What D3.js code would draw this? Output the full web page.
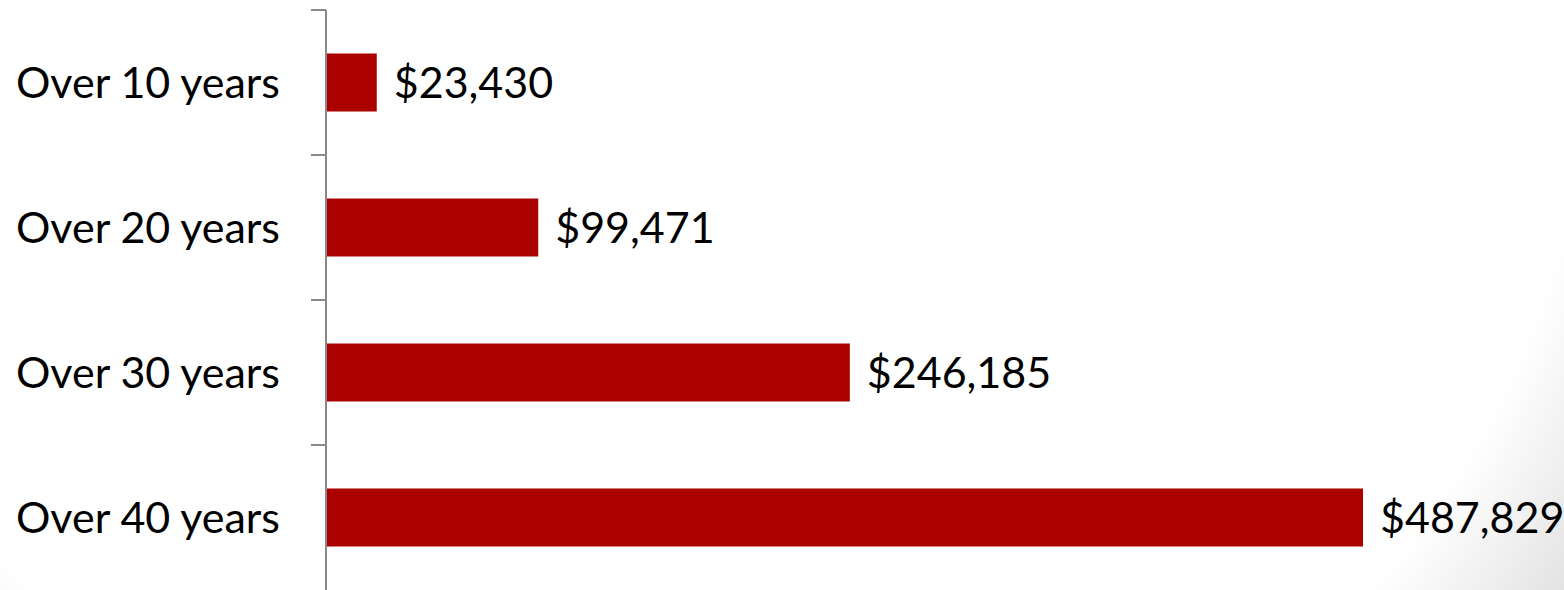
<!DOCTYPE html>
<html>
<head>
<meta charset="utf-8">
<script src="https://cdn.jsdelivr.net/npm/d3@7"></script>
<style>
  html, body { margin: 0; padding: 0; background: #fff; }
  svg { display: block; }
</style>
</head>
<body>
<div id="chart"></div>
<script>
const categories = ['Over 10 years', 'Over 20 years', 'Over 30 years', 'Over 40 years'];
const values = [23430, 99471, 246185, 487829];

const width = 1564;
const height = 590;

const svg = d3
  .select('#chart')
  .append('svg')
  .attr('width', width)
  .attr('height', height);

// soft vignette, mostly in the bottom corners
const grad = svg
  .append('defs')
  .append('radialGradient')
  .attr('id', 'bg')
  .attr('gradientUnits', 'userSpaceOnUse')
  .attr('cx', 700)
  .attr('cy', 0)
  .attr('r', 1050);
grad.append('stop').attr('offset', '0.85').attr('stop-color', '#ffffff');
grad.append('stop').attr('offset', '1').attr('stop-color', '#e2e2e2');

svg.append('rect').attr('width', width).attr('height', height).attr('fill', 'url(#bg)');

const y = d3
  .scaleBand()
  .domain(categories)
  .range([10, 590])
  .paddingInner(0.6)
  .paddingOuter(0.3);

const x = d3
  .scaleLinear()
  .domain([0, d3.max(values)])
  .range([327, 1363]);

// bars
svg
  .selectAll('rect.bar')
  .data(values)
  .join('rect')
  .attr('class', 'bar')
  .attr('x', x(0))
  .attr('y', (d, i) => y(categories[i]))
  .attr('width', (d) => x(d) - x(0))
  .attr('height', y.bandwidth())
  .attr('fill', '#aa0000');

// axis line, ticks sit between categories
const axis = svg.append('g').attr('stroke', '#898989').attr('stroke-width', 2);
axis
  .append('line')
  .attr('x1', 326)
  .attr('x2', 326)
  .attr('y1', y.range()[0])
  .attr('y2', y.range()[1]);
axis
  .selectAll('line.tick')
  .data(d3.range(categories.length))
  .join('line')
  .attr('class', 'tick')
  .attr('x1', 311)
  .attr('x2', 326)
  .attr('y1', (i) => y.range()[0] + i * y.step())
  .attr('y2', (i) => y.range()[0] + i * y.step());

// category labels
svg
  .selectAll('text.cat')
  .data(categories)
  .join('text')
  .attr('class', 'cat')
  .attr('x', 280)
  .attr('y', (d) => y(d) + y.bandwidth() / 2)
  .attr('dy', '0.35em')
  .attr('text-anchor', 'end')
  .attr('font-family', 'Lato, "Open Sans", sans-serif')
  .attr('font-size', 43)
  .attr('fill', '#000')
  .text((d) => d);

// value labels
svg
  .selectAll('text.val')
  .data(values)
  .join('text')
  .attr('class', 'val')
  .attr('x', (d) => x(d) + 17)
  .attr('y', (d, i) => y(categories[i]) + y.bandwidth() / 2)
  .attr('dy', '0.35em')
  .attr('font-family', 'Lato, "Open Sans", sans-serif')
  .attr('font-size', 43)
  .attr('fill', '#000')
  .text((d) => '$' + d3.format(',')(d));
</script>
</body>
</html>
